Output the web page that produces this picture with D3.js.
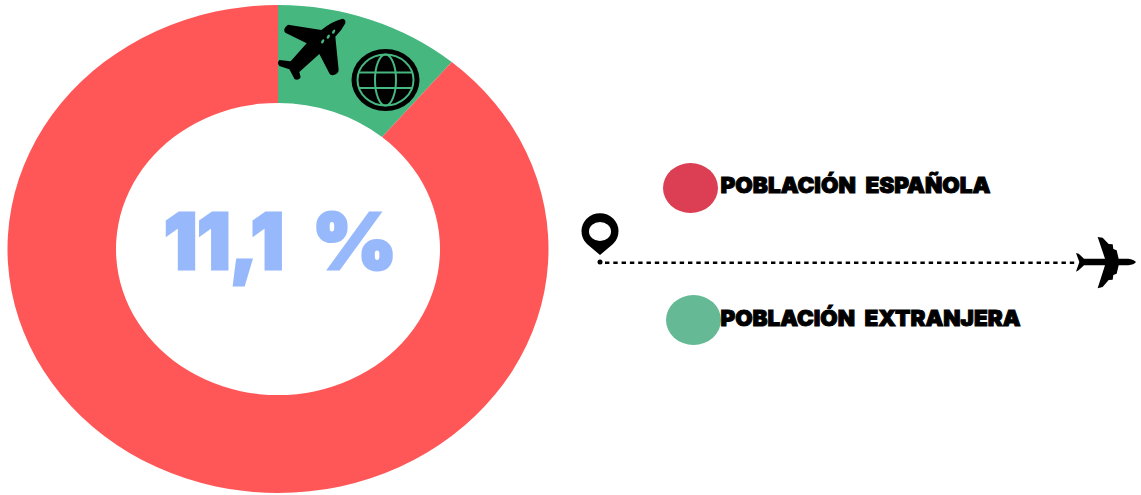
<!DOCTYPE html>
<html><head><meta charset="utf-8">
<script src="https://cdn.jsdelivr.net/npm/d3@7"></script>
<style>html,body{margin:0;padding:0;background:#fff;overflow:hidden}svg{display:block}</style>
</head><body><svg id="c" width="1141" height="495"></svg>
<script>
const categories = ["POBLACIÓN EXTRANJERA", "POBLACIÓN ESPAÑOLA"];
const values = [11.1, 88.9];
const centerNumber = "11,1";
const centerUnit = "%";
const sliceColors = ["#45b77f", "#ff5757"];
const legendOrder = ["POBLACIÓN ESPAÑOLA", "POBLACIÓN EXTRANJERA"];
const legendColors = ["#dc3f53", "#65b994"];

const svg = d3.select("#c");
const pie = d3.pie().sort(null)(values);
const arc = d3.arc().innerRadius(162).outerRadius(270.5);

svg.append("g").attr("transform", "translate(278,249) scale(1,0.902)")
  .selectAll("path").data(pie).join("path")
  .attr("d", arc).attr("fill", (d, i) => sliceColors[i]);

// centre label
const big = (t, x, len) => svg.append("text").text(t)
  .attr("x", x).attr("y", 268.5)
  .attr("textLength", len).attr("lengthAdjust", "spacingAndGlyphs")
  .attr("font-family", "Inter").attr("font-weight", 900).attr("font-size", 77)
  .attr("fill", "#97b9fb").attr("stroke", "#97b9fb").attr("stroke-width", 3)
  .attr("stroke-linejoin", "miter");
big(centerNumber, 164, 120);
big(centerUnit, 312, 85);

// plane over the slice
const pg = svg.append("g").attr("transform", "translate(260,0) scale(0.3333)");
pg.append("path")
  .attr("d", "M248 56 Q258 58 256 70 Q245 92 226 110 L236 210 Q236 222 218 226 Q210 226 206 216 L178 162 L118 216 L122 232 Q118 242 104 238 L88 208 L58 198 Q50 188 58 180 L92 184 L140 130 L76 98 Q66 88 84 74 L184 90 Q215 64 248 56 Z")
  .attr("fill", "#000");
[[188,124],[205,110],[221,95]].forEach(p =>
  pg.append("ellipse").attr("cx", p[0]).attr("cy", p[1]).attr("rx", 4).attr("ry", 7)
    .attr("transform", `rotate(30 ${p[0]} ${p[1]})`).attr("fill", "#45b77f"));

// globe
const globe = svg.append("g").attr("transform", "translate(385.5,80)");
globe.append("ellipse").attr("rx", 34).attr("ry", 31).attr("fill", "#000");
const gl = globe.append("g").attr("fill", "none").attr("stroke", "#45b77f").attr("stroke-width", 2);
gl.append("ellipse").attr("rx", 28).attr("ry", 25.5);
gl.append("ellipse").attr("rx", 10.5).attr("ry", 25.5);
gl.append("line").attr("x1", -27).attr("x2", 27).attr("y1", -7.5).attr("y2", -7.5);
gl.append("line").attr("x1", -27).attr("x2", 27).attr("y1", 8).attr("y2", 8);

// legend
legendOrder.forEach((name, i) => {
  const cy = [188, 320][i], cx = [690.5, 693.5][i], ty = [192.7, 325.7][i];
  svg.append("ellipse").attr("cx", cx).attr("cy", cy).attr("rx", 27.5).attr("ry", 25).attr("fill", legendColors[i]);
  svg.append("text").text(name).attr("x", 720.5).attr("y", ty)
    .style("word-spacing", "5px")
    .attr("textLength", [270, 300][i]).attr("lengthAdjust", "spacingAndGlyphs")
    .attr("font-family", "Inter").attr("font-weight", 900).attr("font-size", 22)
    .attr("fill", "#000").attr("stroke", "#000").attr("stroke-width", 1);
});

// route line
svg.append("line").attr("x1", 605).attr("x2", 1078).attr("y1", 262.7).attr("y2", 262.7)
  .attr("stroke", "#000").attr("stroke-width", 2.5).attr("stroke-dasharray", "4.4 3.9");
svg.append("circle").attr("cx", 600).attr("cy", 262).attr("r", 2.5).attr("fill", "#000");

// pin
svg.append("path")
  .attr("d", "M600 255 L587 244 A18.5 18 0 1 1 613 244 Z M600 222 A11 9.5 0 1 0 600 241 A11 9.5 0 1 0 600 222 Z")
  .attr("fill", "#000").attr("fill-rule", "evenodd");

// airliner at the end of the route
svg.append("g").attr("transform", "translate(1060,225) scale(0.3333)").append("path")
  .attr("d", "M48 84 L56 86 L72 101 L135 101 L113 36 L128 38 L146 57 L158 58 L160 72 L170 76 L176 101 L205 101 Q222 103 228 111 Q222 119 205 121 L176 121 L170 146 L160 150 L158 164 L146 165 L128 186 L113 190 L135 121 L72 121 L56 136 L48 140 L58 111 Z")
  .attr("fill", "#000");
</script></body></html>
